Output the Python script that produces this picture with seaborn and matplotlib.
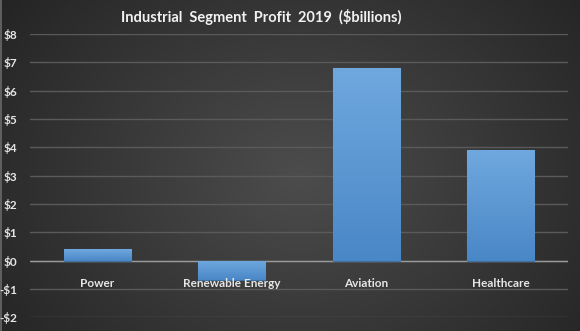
import numpy as np
import pandas as pd
import matplotlib
matplotlib.use("Agg")
import matplotlib.pyplot as plt
import matplotlib.colors as mcolors
import seaborn as sns

# Segment profit, $ billions
segments = ["Power", "Renewable Energy", "Aviation", "Healthcare"]
profit = [0.4, -0.7, 6.8, 3.9]
y_ticks = [-2, -1, 0, 1, 2, 3, 4, 5, 6, 7, 8]
y_tick_labels = ["-$2", "-$1", "$0", "$1", "$2", "$3", "$4", "$5", "$6", "$7", "$8"]
title = "Industrial  Segment  Profit  2019  ($billions)"

df = pd.DataFrame({"segment": segments, "profit": profit})

sns.set_theme(style="dark")
plt.rcParams["font.family"] = ["Lato", "DejaVu Sans"]

W, H = 580, 331
fig = plt.figure(figsize=(W / 100, H / 100), dpi=100)

# Radial dark-gray background
bg = fig.add_axes([0, 0, 1, 1])
yy, xx = np.mgrid[0:H, 0:W]
r = np.sqrt(((xx - 300) / 330.0) ** 2 + ((yy - 175) / 260.0) ** 2)
shade = np.clip(0.30 - 0.14 * r, 0.14, 0.30)
bg.imshow(np.dstack([shade] * 3), extent=[0, W, H, 0], aspect="auto")
bg.axvline(0.5, color="#6a6a6a", lw=1.2)
bg.set_xlim(0, W)
bg.set_ylim(H, 0)
bg.axis("off")

# Plot area
left, right, top, bottom = 30, 568, 34, 317.3
ax = fig.add_axes([left / W, 1 - bottom / H, (right - left) / W, (bottom - top) / H])
ax.patch.set_alpha(0)

sns.barplot(data=df, x="segment", y="profit", width=0.5, ax=ax,
            color="#5b9bd5", edgecolor="#3f6f9f", linewidth=0.8, zorder=3)

ax.set_ylim(-2, 8)
ax.set_xlim(-0.5, len(segments) - 0.5)
ax.set_yticks(y_ticks)
ax.set_yticklabels(y_tick_labels)
ax.set_xticks([])
ax.set_xlabel("")
ax.set_ylabel("")
ax.grid(axis="y", color="#5a5a5a", lw=1.0, zorder=0)
ax.grid(axis="x", visible=False)
ax.axhline(0, color="#9a9a9a", lw=1.0, zorder=2)
for s in ax.spines.values():
    s.set_visible(False)
ax.tick_params(axis="y", length=0, pad=9, labelsize=8.5, labelcolor="#e6e6e6")
for lbl in ax.get_yticklabels():
    lbl.set_fontweight("bold")

# Vertical gradient fill on each bar
grad = mcolors.LinearSegmentedColormap.from_list("bar", ["#4a87c7", "#6fa8de"])
for patch in ax.patches:
    x0, y0 = patch.get_x(), patch.get_y()
    w, h = patch.get_width(), patch.get_height()
    y_lo, y_hi = min(y0, y0 + h), max(y0, y0 + h)
    g = np.linspace(0, 1, 100).reshape(-1, 1)
    if h < 0:
        g = np.linspace(0.3, 1, 100).reshape(-1, 1)
    im = ax.imshow(g, cmap=grad, extent=[x0, x0 + w, y_lo, y_hi],
                   origin="lower", aspect="auto", zorder=3.5)
    im.set_clip_path(patch)
ax.set_xlim(-0.5, len(segments) - 0.5)
ax.set_ylim(-2, 8)

# Category labels just below the zero line
for i, name in enumerate(segments):
    ax.annotate(name, xy=(i, 0), xytext=(0, -16.5), textcoords="offset points",
                ha="center", va="center", fontsize=8.5, fontweight="bold",
                color="#e6e6e6", zorder=5)

fig.text(261 / W, 1 - 17 / H, title, ha="center", va="center",
         fontsize=10.5, fontweight="bold", color="#f2f2f2")

fig.savefig("out.png", dpi=100)
